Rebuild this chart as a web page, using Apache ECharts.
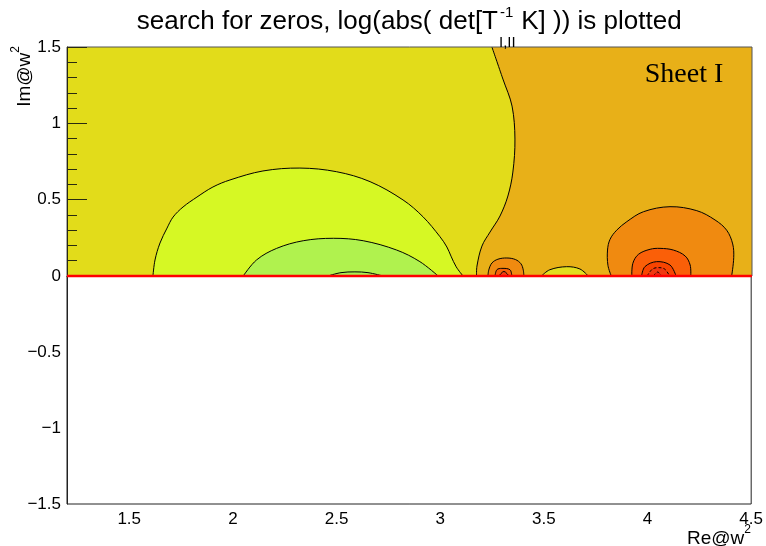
<!DOCTYPE html>
<html><head><meta charset="utf-8">
<script src="https://cdn.jsdelivr.net/npm/echarts@6/dist/echarts.min.js"></script>
<style>html,body{margin:0;padding:0;background:#fff}#c{width:766px;height:546px}</style>
</head><body><div id="c"></div><script>
// ---- data (Re@w^2, Im@w^2) ----
const xRange = [1.2, 4.5];
const yRangeUpper = [0, 1.5];
const yRangeLower = [-1.5, 0];
const xTickValues = [1.5, 2, 2.5, 3, 3.5, 4, 4.5];
// full plotted domain (upper half only is filled)
const domainCorners = [[1.2, 0], [1.2, 1.5], [4.5, 1.5], [4.5, 0]];
// contour separating the left (yellow) and right (orange) levels
const sheetBoundary = [[3.247,1.5],[3.300,1.290],[3.344,1.113],[3.358,0.897],[3.348,0.681],[3.324,0.524],[3.286,0.393],[3.238,0.288],[3.199,0.196],[3.175,0.065],[3.173,0]];
const rightCorners = [[4.5, 0], [4.5, 1.5]];
// closed contours sitting on Im = 0
const bigDome   = [[1.614,0],[1.624,0.105],[1.648,0.216],[1.682,0.314],[1.711,0.386],[1.759,0.452],[1.826,0.517],[1.903,0.583],[1.985,0.629],[2.144,0.688],[2.322,0.707],[2.499,0.683],[2.660,0.618],[2.819,0.498],[2.915,0.388],[2.997,0.257],[3.030,0.19],[3.050,0.13],[3.075,0.06],[3.108,0]];
const greenDome = [[2.049,0],[2.113,0.105],[2.210,0.181],[2.338,0.231],[2.483,0.247],[2.627,0.231],[2.788,0.170],[2.900,0.094],[2.988,0]];
const coreArc   = [[2.457,0],[2.52,0.022],[2.587,0.027],[2.65,0.022],[2.722,0]];
const smallDome = [[3.486,0],[3.526,0.041],[3.607,0.061],[3.671,0.046],[3.711,0]];
const blobA1 = [[3.228,0],[3.232,0.04],[3.247,0.085],[3.276,0.110],[3.319,0.118],[3.360,0.108],[3.387,0.08],[3.398,0.04],[3.401,0]];
const blobA2 = [[3.262,0],[3.271,0.041],[3.295,0.050],[3.334,0.041],[3.343,0]];
const blobA3 = [[3.281,0],[3.305,0.030],[3.329,0]];
const blobB1 = [[3.822,0],[3.806,0.07],[3.804,0.17],[3.816,0.24],[3.848,0.30],[3.897,0.356],[3.977,0.421],[4.105,0.454],[4.234,0.428],[4.322,0.367],[4.378,0.30],[4.407,0.21],[4.412,0.12],[4.402,0]];
const blobB2 = [[3.921,0],[3.926,0.083],[3.953,0.142],[4.009,0.175],[4.057,0.181],[4.121,0.170],[4.178,0.131],[4.202,0.072],[4.205,0]];
const blobB3 = [[3.968,0],[3.984,0.061],[4.040,0.094],[4.105,0.072],[4.134,0]];
const blobB4 = [[3.995,0],[4.02,0.045],[4.05,0.055],[4.08,0.045],[4.103,0]];
const blobB5 = [[4.025,0],[4.045,0.026],[4.065,0]];

// ---- styles ----
const colBg = '#e2dc1a', colRight = '#e8b018';
const domes = [
  {d: bigDome,   c: '#d6f824'},
  {d: greenDome, c: '#b0f24e'},
  {d: coreArc,   c: '#aaf052'},
  {d: smallDome, c: '#e2de1e'},
  {d: blobA1, c: '#f08a10'},
  {d: blobA2, c: '#f8600a'},
  {d: blobA3, c: '#f04010'},
  {d: blobB1, c: '#f08a10'},
  {d: blobB2, c: '#fa5f08'},
  {d: blobB3, c: '#f84400'},
  {d: blobB4, c: '#f03810', dash: true},
  {d: blobB5, c: '#e82410', dash: true}
];

const FONT = 'Liberation Sans, Arial, Helvetica, sans-serif';
const chart = echarts.init(document.getElementById('c'), null, {renderer: 'canvas'});

const series = [];
// background levels
series.push({
  type: 'custom', xAxisIndex: 0, yAxisIndex: 0, clip: true, silent: true,
  data: [0],
  renderItem: function (params, api) {
    return {type: 'group', children: [
      {type: 'polygon', shape: {points: domainCorners.map(p => api.coord(p))}, style: {fill: colBg}},
      {type: 'polygon', shape: {points: sheetBoundary.concat(rightCorners).map(p => api.coord(p))}, style: {fill: colRight}},
      {type: 'polyline', shape: {points: sheetBoundary.map(p => api.coord(p)), smooth: 0.35}, style: {stroke: '#000', fill: null, lineWidth: 1}}
    ]};
  }
});
// closed contours on the real axis
series.push({
  type: 'custom', xAxisIndex: 0, yAxisIndex: 0, clip: true, silent: true,
  data: domes.map((d, i) => i),
  renderItem: function (params, api) {
    const dm = domes[params.dataIndex];
    return {type: 'polyline', shape: {points: dm.d.map(p => api.coord(p)), smooth: 0.35},
      style: {fill: dm.c, stroke: '#000', lineWidth: 1, lineDash: dm.dash ? [3, 2] : null}};
  }
});
series.push({
  type: 'line', xAxisIndex: 0, yAxisIndex: 0, clip: false, silent: true, z: 20, showSymbol: false,
  data: [[xRange[0], 0], [xRange[1], 0]],
  lineStyle: {color: '#ff0000', width: 2.5}
});

const minus = v => String(v).replace('-', '\u2212');

chart.setOption({
  animation: false,
  backgroundColor: '#fff',
  grid: [
    {left: 67, right: 14, top: 47, height: 229, show: true, z: 10, borderColor: '#555', borderWidth: 1, backgroundColor: 'transparent'},
    {left: 67, right: 14, top: 276, height: 228, show: true, z: 10, borderColor: '#222', borderWidth: 1, backgroundColor: 'transparent'}
  ],
  xAxis: [
    {type: 'value', gridIndex: 0, min: xRange[0], max: xRange[1], show: false},
    {type: 'value', gridIndex: 1, min: xRange[0], max: xRange[1], z: 10,
     axisLine: {show: true, lineStyle: {color: '#222', width: 1}},
     axisTick: {show: false}, splitLine: {show: false},
     axisLabel: {customValues: xTickValues, color: '#000', fontSize: 17, fontFamily: FONT, margin: 7, formatter: v => String(v)}}
  ],
  yAxis: [
    {type: 'value', gridIndex: 0, min: yRangeUpper[0], max: yRangeUpper[1], interval: 0.5, z: 10,
     axisLine: {show: true, lineStyle: {color: '#2a2a10', width: 1}},
     axisTick: {show: true, inside: true, length: 20, lineStyle: {color: '#2a2a10', width: 1}},
     minorTick: {show: true, splitNumber: 5, length: 10, lineStyle: {color: '#2a2a10', width: 1}},
     splitLine: {show: false}, minorSplitLine: {show: false},
     axisLabel: {color: '#000', fontSize: 17, fontFamily: FONT, margin: 6, formatter: v => minus(v)}},
    {type: 'value', gridIndex: 1, min: yRangeLower[0], max: yRangeLower[1], interval: 0.5, z: 10,
     axisLine: {show: true, lineStyle: {color: '#222', width: 1}},
     axisTick: {show: false}, splitLine: {show: false},
     axisLabel: {color: '#000', fontSize: 17, fontFamily: FONT, margin: 6, formatter: v => (v === 0 ? '' : minus(v))}}
  ],
  series: series,
  graphic: [
    {type: 'text', x: 498, y: 22, z: 100, style: {text: 'search for zeros, log(abs( det[T', fontSize: 26, fontFamily: FONT, fill: '#000', align: 'right', verticalAlign: 'middle'}},
    {type: 'text', x: 500, y: 13, z: 100, style: {text: '-1', fontSize: 15, fontFamily: FONT, fill: '#000', align: 'left', verticalAlign: 'middle'}},
    {type: 'text', x: 499, y: 43, z: 100, style: {text: 'I,II', fontSize: 15, fontFamily: FONT, fill: '#000', align: 'left', verticalAlign: 'middle'}},
    {type: 'text', x: 514, y: 22, z: 100, style: {text: ' K] )) is plotted', fontSize: 26, fontFamily: FONT, fill: '#000', align: 'left', verticalAlign: 'middle'}},
    {type: 'text', x: 684, y: 75, z: 100, style: {text: 'Sheet I', fontSize: 28, fontFamily: 'Liberation Serif, Times New Roman, serif', fill: '#000', align: 'center', verticalAlign: 'middle'}},
    {type: 'text', x: 22, y: 46, z: 100, rotation: Math.PI / 2, style: {text: '{a|Im@w}{s|2}', align: 'right', verticalAlign: 'middle',
      rich: {a: {fontSize: 19, fontFamily: FONT, fill: '#000', lineHeight: 24, verticalAlign: 'bottom'}, s: {fontSize: 12, fontFamily: FONT, fill: '#000', verticalAlign: 'top'}}}},
    {type: 'text', x: 751, y: 536, z: 100, style: {text: '{a|Re@w}{s|2}', align: 'right', verticalAlign: 'middle',
      rich: {a: {fontSize: 19, fontFamily: FONT, fill: '#000', lineHeight: 24, verticalAlign: 'bottom'}, s: {fontSize: 12, fontFamily: FONT, fill: '#000', verticalAlign: 'top'}}}}
  ]
});
</script></body></html>
